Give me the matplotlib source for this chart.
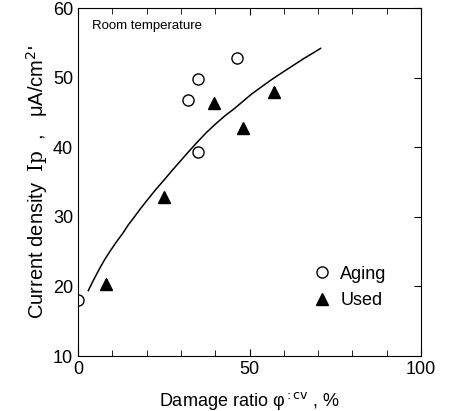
import matplotlib
matplotlib.use("Agg")
import matplotlib.pyplot as plt

# values
aging_x = [0, 32, 35, 35, 46.2]
aging_y = [18, 46.8, 49.8, 39.3, 52.8]

used_x = [8.2, 25, 39.6, 48, 57]
used_y = [20.4, 32.9, 46.4, 42.7, 48]

# fitted curve, traced point by point
curve_x = [3.0, 4.5, 6.0, 7.7, 9.4, 11.2, 13.0, 14.6, 16.3, 18.4, 20.5, 22.8, 25.1, 27.5,
           30.0, 32.5, 34.9, 37.4, 40.0, 42.8, 45.7, 48.1, 50.5, 53.0, 55.5, 58.2, 61.0,
           63.5, 66.0, 68.4, 70.7]
curve_y = [19.4, 20.9, 22.3, 23.8, 25.1, 26.4, 27.6, 28.8, 29.9, 31.3, 32.6, 34.0, 35.3,
           36.7, 38.1, 39.5, 40.8, 42.1, 43.3, 44.5, 45.6, 46.6, 47.6, 48.5, 49.4, 50.3,
           51.2, 52.0, 52.8, 53.5, 54.2]

plt.rcParams['font.family'] = ['Liberation Sans', 'DejaVu Sans']
plt.rcParams['mathtext.fontset'] = 'dejavuserif'

fig = plt.figure(figsize=(4.52, 4.11), dpi=100)
ax = fig.add_axes([0.1726, 0.1338, 0.759, 0.8467])

ax.plot(curve_x, curve_y, color="black", lw=1.1)
ax.plot(aging_x, aging_y, 'o', mfc='white', mec='black', ms=8, mew=1.0, label="Aging")
ax.plot(used_x, used_y, '^', color='black', ms=8, label="Used")

ax.set_xlim(0, 100)
ax.set_ylim(10, 60)
ax.set_xticks([0, 50, 100])
ax.set_xticks(range(0, 101, 10), minor=True)
ax.set_yticks(range(10, 61, 10))
ax.tick_params(which='both', direction='in', top=True, right=True, left=False, labelsize=13)
ax.tick_params(which='major', length=5)
ax.tick_params(which='minor', length=4)

ax.set_xlabel("Damage ratio φ$^{\\mathsf{:cv}}$ , %", fontsize=13, labelpad=9)
ax.set_ylabel("Current density  $\\mathrm{Ip}$  ,   μA/cm$^{\\mathsf{2}}$'", fontsize=14.5, labelpad=2)

ax.text(0.04, 0.965, "Room temperature", transform=ax.transAxes, fontsize=9.5, va='top', ha='left')

ax.legend(loc='upper left', bbox_to_anchor=(0.68, 0.26), frameon=False, fontsize=13,
          borderpad=0, borderaxespad=0, handletextpad=0.4, labelspacing=0.55, handlelength=1.2)

fig.savefig("out.png", dpi=100)
